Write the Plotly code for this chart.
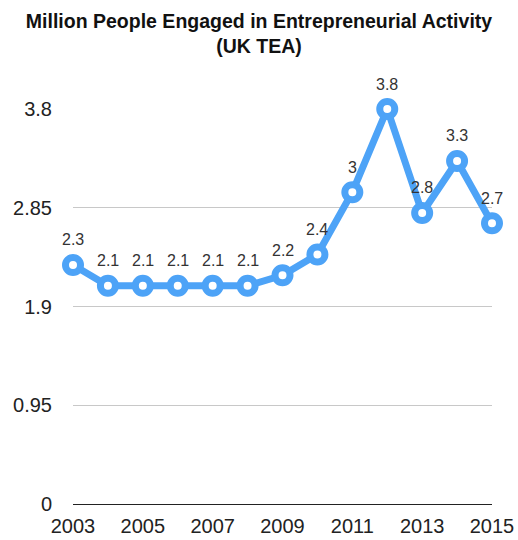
import plotly.graph_objects as go

years = [2003, 2004, 2005, 2006, 2007, 2008, 2009, 2010, 2011, 2012, 2013, 2014, 2015]
values = [2.3, 2.1, 2.1, 2.1, 2.1, 2.1, 2.2, 2.4, 3.0, 3.8, 2.8, 3.3, 2.7]
labels = ["2.3", "2.1", "2.1", "2.1", "2.1", "2.1", "2.2", "2.4", "3", "3.8", "2.8", "3.3", "2.7"]
y_ticks = [0, 0.95, 1.9, 2.85, 3.8]
y_tick_text = ["0", "0.95", "1.9", "2.85", "3.8"]
x_ticks = [2003, 2005, 2007, 2009, 2011, 2013, 2015]

blue = "#4DA3F7"
font = "Liberation Sans, Arial, Helvetica, sans-serif"

fig = go.Figure()
fig.add_trace(go.Scatter(
    x=years, y=values, mode="lines+markers",
    line=dict(color=blue, width=7),
    marker=dict(symbol="circle", size=15, color="white", line=dict(color=blue, width=7)),
    cliponaxis=False, showlegend=False, hoverinfo="x+y",
))

for xv, yv, t in zip(years, values, labels):
    fig.add_annotation(
        x=xv, y=yv, text=t, showarrow=False, yshift=25,
        xanchor="center", yanchor="middle",
        font=dict(family=font, size=16, color="#333333"),
    )

fig.update_layout(
    width=518, height=540,
    margin=dict(l=73, r=26, t=109, b=36),
    paper_bgcolor="white", plot_bgcolor="white",
    font=dict(family=font, color="#222222"),
    title=dict(
        text="<b>Million People Engaged in Entrepreneurial Activity<br>(UK TEA)</b>",
        font=dict(family=font, size=19.5, color="#111111"),
        x=0.5, xanchor="center", xref="container",
        y=1 - 28 / 540, yanchor="middle", yref="container",
    ),
    xaxis=dict(
        range=[2003, 2015], tickvals=x_ticks, ticktext=[str(v) for v in x_ticks],
        showgrid=False, zeroline=False, showline=False, ticks="",
        tickfont=dict(family=font, size=20, color="#222222"),
        ticklabelstandoff=8, automargin=False,
    ),
    yaxis=dict(
        range=[0, 3.8], tickvals=y_ticks, ticktext=y_tick_text,
        showgrid=True, gridcolor="#C8C8C8", gridwidth=1,
        zeroline=True, zerolinecolor="#222222", zerolinewidth=1,
        showline=False, ticks="",
        tickfont=dict(family=font, size=20, color="#222222"),
        ticklabelstandoff=20, automargin=False,
    ),
)

fig.write_html("out.html")
